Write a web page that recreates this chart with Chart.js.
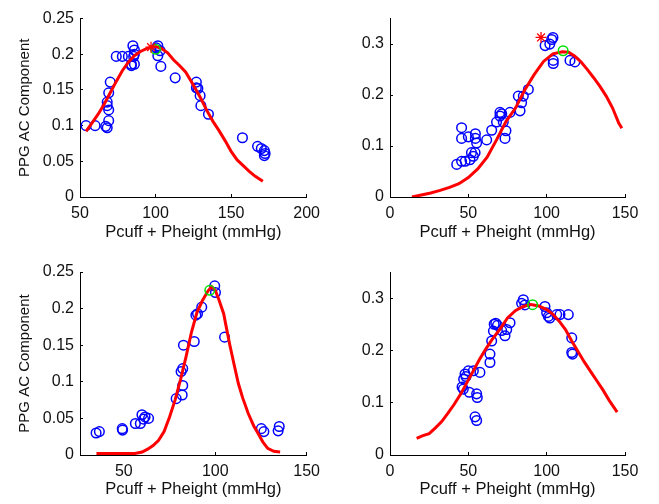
<!DOCTYPE html>
<html>
<head>
<meta charset="utf-8">
<script src="https://cdn.jsdelivr.net/npm/chart.js@4"></script>
<style>
  body { margin: 0; background: #fff; }
  #wrap { position: relative; width: 659px; height: 504px; }
  canvas { position: absolute; }
</style>
</head>
<body>
<div id="wrap">
  <canvas id="c1" width="330" height="250" style="left:0;top:0"></canvas>
  <canvas id="c2" width="329" height="250" style="left:330px;top:0"></canvas>
  <canvas id="c3" width="330" height="254" style="left:0;top:250px"></canvas>
  <canvas id="c4" width="329" height="254" style="left:330px;top:250px"></canvas>
</div>
<script>
// --- panel 1 (top left) ---
const p1X = [54, 60, 67, 68, 69, 69, 68, 68, 69, 70, 74, 78, 82, 84, 85, 86, 85.5, 84, 86, 86, 101.5, 100.5, 103, 101.5, 103.5, 113, 127, 128, 127, 129.5, 130, 135, 157.5, 167.5, 170, 172, 172, 172.5];
const p1Y = [0.100, 0.100, 0.099, 0.097, 0.107, 0.122, 0.128, 0.133, 0.146, 0.161, 0.197, 0.197, 0.197, 0.186, 0.212, 0.206, 0.197, 0.184, 0.186, 0.200, 0.212, 0.209, 0.205, 0.198, 0.183, 0.167, 0.161, 0.152, 0.153, 0.142, 0.128, 0.116, 0.083, 0.071, 0.068, 0.065, 0.058, 0.061];
const p1FitX = [54, 58, 62, 66, 70, 74, 78, 82, 86, 90, 94, 97, 100, 104, 108, 112, 116, 120, 125, 130, 134, 138, 142, 146, 150, 154, 158, 162, 166, 171];
const p1FitY = [0.092, 0.104, 0.116, 0.130, 0.146, 0.162, 0.177, 0.189, 0.198, 0.204, 0.208, 0.210, 0.211, 0.208, 0.202, 0.192, 0.184, 0.175, 0.157, 0.138, 0.121, 0.106, 0.093, 0.079, 0.064, 0.052, 0.044, 0.036, 0.029, 0.022];
const p1Peak = [100, 0.207];
const p1Star = [97, 0.210];

// --- panel 2 (top right) ---
const p2X = [45.7, 45.7, 50, 54.5, 54.5, 55.3, 52, 54.3, 42.6, 45.7, 48, 51, 53.2, 61.7, 64.9, 68, 70.2, 70.2, 71.3, 72.3, 73.4, 74, 76.6, 81.9, 83, 84, 85.1, 88.3, 99, 103.2, 104, 102, 104.2, 104.2, 114.9, 118];
const p2Y = [0.136, 0.115, 0.118, 0.124, 0.115, 0.106, 0.087, 0.087, 0.064, 0.070, 0.070, 0.073, 0.080, 0.112, 0.131, 0.147, 0.159, 0.166, 0.163, 0.147, 0.115, 0.130, 0.166, 0.198, 0.169, 0.185, 0.198, 0.211, 0.297, 0.309, 0.313, 0.300, 0.268, 0.262, 0.268, 0.265];
const p2FitX = [14, 20, 26, 32, 38, 44, 50, 56, 62, 68, 74, 80, 86, 92, 98, 104, 110, 114, 118, 122, 126, 130, 134, 138, 142, 146, 148];
const p2FitY = [0.000, 0.004, 0.008, 0.013, 0.019, 0.026, 0.038, 0.055, 0.078, 0.112, 0.148, 0.174, 0.210, 0.240, 0.266, 0.281, 0.285, 0.284, 0.276, 0.265, 0.250, 0.234, 0.217, 0.198, 0.175, 0.145, 0.135];
const p2Peak = [110.5, 0.287];
const p2Star = [96.4, 0.313];

// --- panel 3 (bottom left) ---
const p3X = [34.8, 36.6, 49.1, 49.3, 56.3, 59, 59.9, 61.6, 60.8, 63.5, 78.6, 81.9, 82.2, 81.3, 82.2, 82.6, 88.5, 89.4, 90.3, 92.6, 99.7, 100.1, 105.1, 125.2, 126.6, 135, 134.4];
const p3Y = [0.030, 0.032, 0.036, 0.034, 0.043, 0.043, 0.055, 0.052, 0.049, 0.050, 0.077, 0.082, 0.095, 0.114, 0.118, 0.150, 0.155, 0.191, 0.193, 0.202, 0.231, 0.222, 0.161, 0.036, 0.032, 0.039, 0.033];
const p3FitX = [35, 45, 56, 60, 63, 66, 69, 72, 75, 78, 81, 84, 87, 90, 93, 96, 98, 100, 102, 104.6, 106, 108, 110, 112.6, 115, 118, 121, 123.3, 126, 128.7, 132, 135.5];
const p3FitY = [0.002, 0.002, 0.002, 0.004, 0.008, 0.013, 0.020, 0.032, 0.052, 0.075, 0.103, 0.134, 0.168, 0.195, 0.211, 0.224, 0.230, 0.225, 0.212, 0.193, 0.175, 0.150, 0.127, 0.098, 0.078, 0.057, 0.040, 0.030, 0.018, 0.009, 0.005, 0.004];
const p3Peak = [97, 0.225];

// --- panel 4 (bottom right) ---
const p4X = [46, 46.8, 47, 47.9, 48.5, 50, 50.6, 53.2, 57.4, 55.3, 55.7, 54.3, 55.3, 63.8, 63.8, 64.9, 66, 66.5, 67.5, 68.6, 71.3, 73.4, 74.5, 76.6, 85.1, 84, 86.1, 98.9, 100, 101.1, 102, 106.4, 108.5, 113.8, 116, 116, 116.5];
const p4Y = [0.130, 0.126, 0.145, 0.155, 0.150, 0.161, 0.120, 0.161, 0.158, 0.117, 0.110, 0.073, 0.066, 0.193, 0.177, 0.218, 0.237, 0.250, 0.252, 0.248, 0.238, 0.228, 0.240, 0.253, 0.297, 0.290, 0.287, 0.284, 0.272, 0.265, 0.262, 0.2685, 0.2685, 0.2685, 0.224, 0.196, 0.193];
const p4FitX = [17, 21, 25, 29, 33, 37, 41, 45, 49, 53, 57, 61, 65, 70, 75, 80, 85, 90, 95, 100, 104, 108, 112, 116, 120, 124, 128, 132, 136, 140, 145];
const p4FitY = [0.032, 0.037, 0.041, 0.052, 0.064, 0.080, 0.097, 0.116, 0.138, 0.160, 0.182, 0.202, 0.220, 0.240, 0.262, 0.276, 0.284, 0.288, 0.285, 0.278, 0.269, 0.256, 0.240, 0.218, 0.198, 0.178, 0.160, 0.142, 0.124, 0.104, 0.082];
const p4Peak = [91, 0.2875];

const xTitle = 'Pcuff + Pheight (mmHg)';
const yTitle = 'PPG AC Component';

const pts = (xs, ys) => xs.map((x, i) => ({ x: x, y: ys[i] }));
const txt = '#111';

function panel(id, o) {
  const sets = [];
  if (o.star) {
    sets.push({ data: [{ x: o.star[0], y: o.star[1] }], pointStyle: 'star', pointRadius: 5.5,
      borderColor: '#ff0000', backgroundColor: '#ff0000', pointBorderWidth: 1.3 });
  }
  sets.push({ data: [{ x: o.peak[0], y: o.peak[1] }], pointStyle: 'circle', pointRadius: 4.8,
    borderColor: '#00e000', backgroundColor: 'rgba(0,0,0,0)', pointBorderWidth: 1.5 });
  sets.push({ data: pts(o.fitX, o.fitY), showLine: true, borderColor: '#ff0000', borderWidth: 3,
    pointRadius: 0, tension: 0 });
  sets.push({ data: pts(o.x, o.y), pointStyle: 'circle', pointRadius: 4.8,
    borderColor: '#0000ff', backgroundColor: 'rgba(0,0,0,0)', pointBorderWidth: 1.5 });

  new Chart(document.getElementById(id), {
    type: 'scatter',
    data: { datasets: sets },
    options: {
      responsive: false,
      animation: false,
      events: [],
      plugins: { legend: { display: false }, tooltip: { enabled: false } },
      layout: { padding: { left: 0, right: o.padR, top: o.padT, bottom: 0 } },
      scales: {
        x: {
          type: 'linear', min: o.xMin, max: o.xMax,
          ticks: { stepSize: 50, includeBounds: false, padding: 10, color: txt,
            font: { family: 'Liberation Sans', size: 16 } },
          grid: { drawOnChartArea: false, tickLength: -3, color: '#000' },
          border: { color: '#000', width: 1 },
          title: { display: true, text: xTitle, color: txt,
            font: { family: 'Liberation Sans', size: 16.5 }, padding: { top: 0, bottom: o.xTitlePad } },
          afterFit: s => { s.height = o.xH; }
        },
        y: {
          type: 'linear', min: 0, max: o.yMax,
          ticks: { stepSize: o.yStep, includeBounds: false, padding: 9, color: txt,
            font: { family: 'Liberation Sans', size: 16 },
            callback: v => String(+v.toFixed(2)) },
          grid: { drawOnChartArea: false, tickLength: -3, color: '#000' },
          border: { color: '#000', width: 1 },
          title: { display: o.yLabel, text: yTitle, color: txt,
            font: { family: 'Liberation Sans', size: 15 }, padding: { top: 16, bottom: 0 } },
          afterFit: s => { s.width = o.yW; }
        }
      }
    }
  });
}

panel('c1', { x: p1X, y: p1Y, fitX: p1FitX, fitY: p1FitY, peak: p1Peak, star: p1Star,
  xMin: 50, xMax: 200, yMax: 0.25, yStep: 0.05, yLabel: true, yW: 80, xH: 53, padR: 17, padT: 15, xTitlePad: 8 });
panel('c2', { x: p2X, y: p2Y, fitX: p2FitX, fitY: p2FitY, peak: p2Peak, star: p2Star,
  xMin: 0, xMax: 150, yMax: 0.35, yStep: 0.1, yLabel: false, yW: 60, xH: 53, padR: 34, padT: 14, xTitlePad: 8 });
panel('c3', { x: p3X, y: p3Y, fitX: p3FitX, fitY: p3FitY, peak: p3Peak,
  xMin: 26, xMax: 150, yMax: 0.25, yStep: 0.05, yLabel: true, yW: 80, xH: 49, padR: 17, padT: 22, xTitlePad: 5 });
panel('c4', { x: p4X, y: p4Y, fitX: p4FitX, fitY: p4FitY, peak: p4Peak,
  xMin: 0, xMax: 150, yMax: 0.35, yStep: 0.1, yLabel: false, yW: 60, xH: 49, padR: 34, padT: 22, xTitlePad: 5 });
</script>
</body>
</html>
